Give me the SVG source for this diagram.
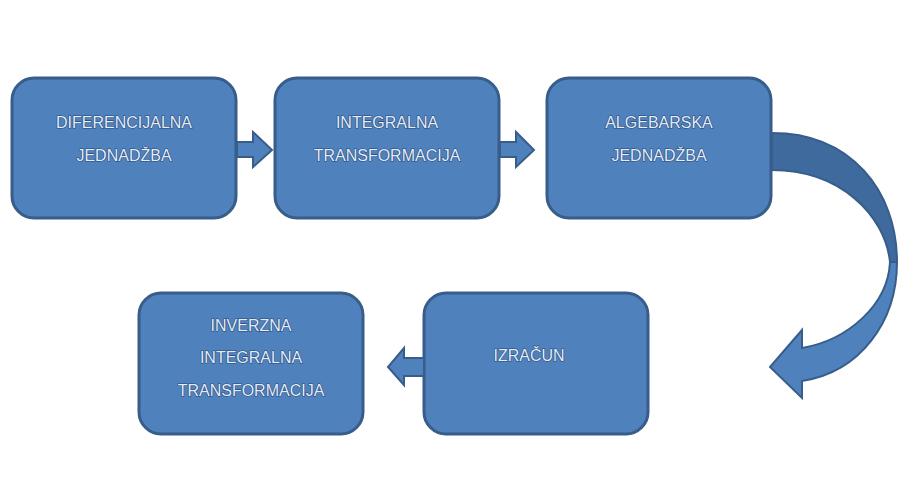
<svg xmlns="http://www.w3.org/2000/svg" width="901" height="504" viewBox="0 0 901 504">
<style>
.box{fill:#4f81bd;stroke:#385d8a;stroke-width:3}
.arr{fill:#4f81bd;stroke:#385d8a;stroke-width:2;stroke-linejoin:miter}
.dark{fill:#3f6a9e;stroke:#385d8a;stroke-width:2}
.t{font-family:"Liberation Sans",Arial,sans-serif;font-size:16px;fill:#e4ecf7;stroke:#24497a;stroke-width:1.2;paint-order:stroke;text-anchor:middle}
</style>
<rect width="901" height="504" fill="#ffffff"/>
<g id="n1"><rect class="box" x="12" y="78" width="224" height="140" rx="22"/>
<text class="t" x="124" y="128">DIFERENCIJALNA</text><text class="t" x="124" y="161">JEDNADŽBA</text></g>
<g id="n2"><rect class="box" x="275" y="78" width="224" height="140" rx="22"/>
<text class="t" x="387" y="128">INTEGRALNA</text><text class="t" x="387" y="161">TRANSFORMACIJA</text></g>
<g id="n3"><rect class="box" x="547" y="78" width="224" height="140" rx="22"/>
<text class="t" x="659" y="128">ALGEBARSKA</text><text class="t" x="659" y="161">JEDNADŽBA</text></g>
<g id="n4"><rect class="box" x="139" y="293" width="224" height="141" rx="22"/>
<text class="t" x="251" y="331">INVERZNA</text><text class="t" x="251" y="363">INTEGRALNA</text><text class="t" x="251" y="396">TRANSFORMACIJA</text></g>
<g id="n5"><rect class="box" x="424" y="293" width="224" height="141" rx="22"/>
<text class="t" x="529" y="361">IZRAČUN</text></g>
<g id="connectors">
<path class="arr" d="M237,142 L253,142 L253,132 L272,150 L253,167 L253,157 L237,157 Z"/>
<path class="arr" d="M500,142 L516,142 L516,132 L534,150 L516,167 L516,157 L500,157 Z"/>
<path class="arr" d="M424,358 L404,358 L404,348 L388,367 L404,385 L404,376 L424,376 Z"/>
<path class="dark" d="M772,133 C850,133 897,190 897,262 L890,262 C885,215 840,170 772,170 Z"/>
<path class="arr" d="M897,262 C897,322 860,372 802,381 L802,398 L770,367 L802,330 L802,348 C848,340 888,305 890,262 Z"/>
</g>
</svg>
